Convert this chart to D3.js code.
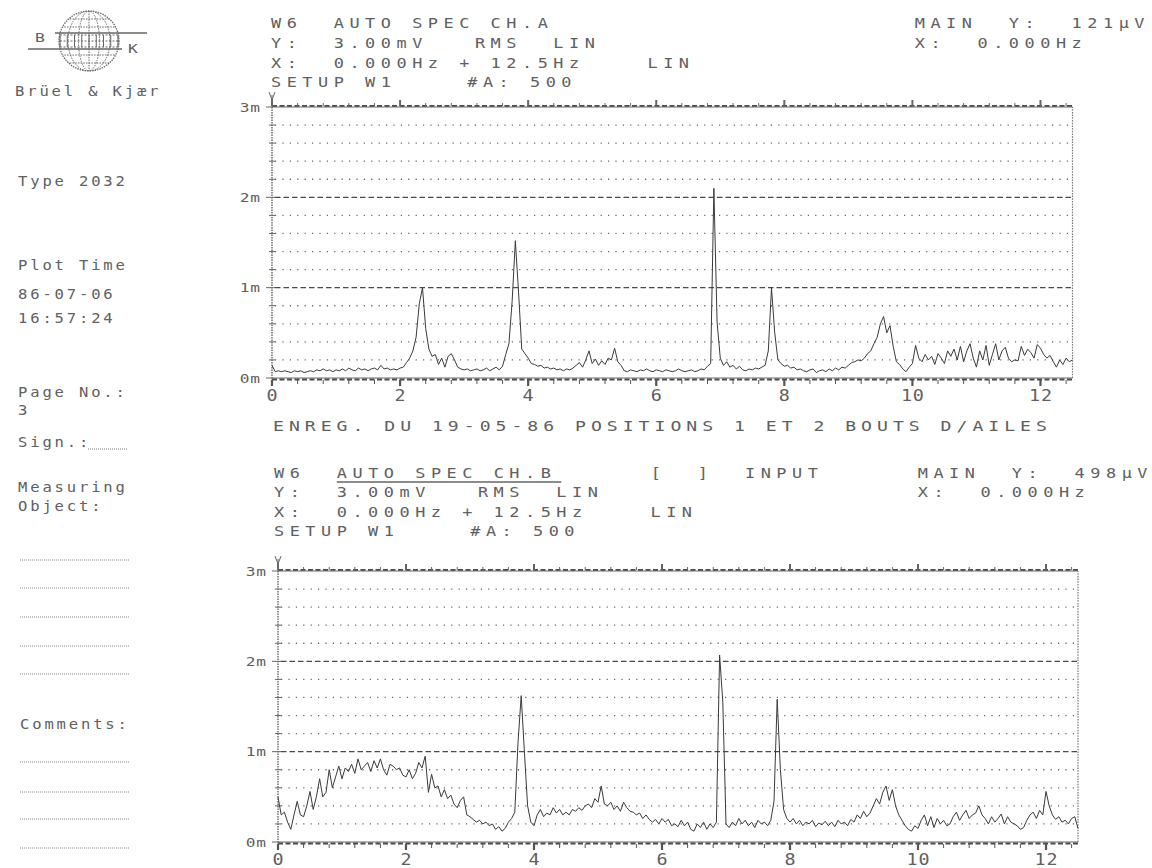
<!DOCTYPE html>
<html><head><meta charset="utf-8">
<script src="https://cdn.jsdelivr.net/npm/d3@7"></script>
<style>
body{margin:0;background:#fff}
svg{display:block}
text{font-family:"DejaVu Sans Mono","Liberation Mono",monospace;fill:#606060;white-space:pre}
</style></head>
<body><svg id="c" width="1152" height="868"></svg>
<script>
// ---------- data ----------
const FREQ_STEP = 0.05;      // Hz between spectrum values
const FREQ_MAX = 12.5;       // Hz span
const Y_MAX = 3;             // mV full scale

// CH.A auto spectrum (mV RMS), 0 .. 12.5 Hz every 0.05 Hz
const chA = [
 0.14,0.07,0.08,0.07,0.08,0.07,0.06,0.08,0.07,0.08, 0.06,0.07,0.08,0.07,0.09,0.08,0.10,0.08,0.09,0.07,
 0.09,0.08,0.10,0.08,0.11,0.09,0.08,0.11,0.09,0.10, 0.08,0.10,0.11,0.09,0.14,0.10,0.11,0.09,0.10,0.09,
 0.11,0.12,0.17,0.22,0.30,0.45,0.82,1.00,0.55,0.32, 0.24,0.26,0.15,0.22,0.12,0.24,0.27,0.20,0.12,0.10,
 0.09,0.10,0.08,0.09,0.10,0.08,0.09,0.11,0.08,0.10, 0.12,0.09,0.13,0.26,0.38,0.85,1.52,0.95,0.32,0.27,
 0.22,0.16,0.15,0.13,0.14,0.11,0.12,0.10,0.11,0.09, 0.10,0.08,0.10,0.09,0.11,0.14,0.17,0.12,0.20,0.30,
 0.16,0.21,0.14,0.19,0.15,0.22,0.20,0.33,0.18,0.14, 0.08,0.07,0.09,0.08,0.07,0.09,0.08,0.10,0.08,0.07,
 0.09,0.08,0.07,0.09,0.08,0.07,0.08,0.10,0.08,0.07, 0.08,0.09,0.07,0.08,0.10,0.09,0.13,0.16,2.10,0.62,
 0.22,0.14,0.18,0.12,0.14,0.10,0.13,0.09,0.08,0.10, 0.09,0.11,0.10,0.12,0.14,0.30,1.00,0.50,0.20,0.16,
 0.13,0.14,0.11,0.12,0.09,0.10,0.08,0.07,0.09,0.10, 0.06,0.08,0.09,0.07,0.10,0.08,0.11,0.09,0.12,0.11,
 0.14,0.17,0.18,0.20,0.19,0.22,0.27,0.30,0.38,0.45, 0.60,0.68,0.50,0.58,0.35,0.18,0.15,0.10,0.07,0.12,
 0.16,0.36,0.22,0.18,0.26,0.20,0.24,0.15,0.27,0.22, 0.16,0.30,0.24,0.32,0.20,0.35,0.18,0.30,0.38,0.22,
 0.12,0.30,0.20,0.36,0.14,0.26,0.38,0.20,0.30,0.34, 0.22,0.18,0.20,0.19,0.35,0.25,0.32,0.28,0.22,0.37,
 0.33,0.26,0.22,0.25,0.18,0.12,0.20,0.15,0.22,0.18, 0.20
];

// CH.B auto spectrum (mV RMS), 0 .. 12.5 Hz every 0.05 Hz
const chB = [
 0.50,0.30,0.33,0.22,0.14,0.30,0.45,0.30,0.28,0.40, 0.56,0.36,0.50,0.70,0.50,0.55,0.80,0.60,0.72,0.84,
 0.70,0.82,0.78,0.86,0.76,0.92,0.80,0.84,0.88,0.78, 0.90,0.82,0.92,0.80,0.74,0.86,0.84,0.80,0.82,0.74,
 0.72,0.80,0.70,0.76,0.88,0.82,0.95,0.55,0.75,0.60, 0.62,0.50,0.58,0.48,0.52,0.42,0.38,0.46,0.50,0.30,
 0.28,0.25,0.22,0.24,0.20,0.22,0.18,0.20,0.14,0.17, 0.12,0.15,0.22,0.26,0.33,1.10,1.62,1.00,0.40,0.22,
 0.18,0.30,0.36,0.28,0.32,0.30,0.38,0.32,0.36,0.30, 0.33,0.30,0.36,0.34,0.38,0.35,0.40,0.42,0.38,0.48,
 0.44,0.62,0.42,0.40,0.44,0.36,0.40,0.34,0.44,0.38, 0.34,0.33,0.30,0.32,0.26,0.30,0.25,0.22,0.25,0.20,
 0.26,0.22,0.25,0.18,0.20,0.17,0.24,0.18,0.22,0.14, 0.12,0.20,0.16,0.22,0.14,0.20,0.16,0.22,2.07,1.55,
 0.20,0.16,0.22,0.18,0.26,0.20,0.24,0.18,0.22,0.16, 0.24,0.20,0.22,0.18,0.24,0.45,1.58,0.80,0.36,0.26,
 0.22,0.26,0.20,0.24,0.18,0.22,0.20,0.24,0.17,0.21, 0.19,0.23,0.18,0.22,0.17,0.24,0.20,0.22,0.18,0.25,
 0.22,0.30,0.26,0.34,0.28,0.32,0.40,0.48,0.42,0.55, 0.62,0.46,0.58,0.40,0.30,0.24,0.18,0.14,0.12,0.18,
 0.15,0.24,0.30,0.18,0.28,0.16,0.26,0.20,0.24,0.18, 0.20,0.28,0.33,0.24,0.30,0.35,0.26,0.30,0.32,0.40,
 0.30,0.26,0.20,0.28,0.22,0.26,0.31,0.20,0.28,0.22, 0.20,0.18,0.14,0.16,0.24,0.30,0.33,0.26,0.35,0.30,
 0.56,0.40,0.30,0.25,0.28,0.22,0.24,0.20,0.26,0.28, 0.15
];

const yTickValues = [0, 1, 2, 3];
const yTickLabels = ["0m", "1m", "2m", "3m"];
const xTickValues = [0, 2, 4, 6, 8, 10, 12];
const xMinorStep = 0.4;
const cursorFreq = 0;

const headerA = ["W6  AUTO SPEC CH.A", "MAIN  Y:  121µV", "Y:  3.00mV   RMS  LIN", "X:  0.000Hz",
                 "X:  0.000Hz + 12.5Hz    LIN", "SETUP W1", "#A: 500"];
const headerB = ["W6", "AUTO SPEC CH.B", "[  ]", "INPUT", "MAIN  Y:  498µV", "Y:  3.00mV   RMS  LIN", "X:  0.000Hz",
                 "X:  0.000Hz + 12.5Hz    LIN", "SETUP W1", "#A: 500"];
const caption = "ENREG. DU 19-05-86 POSITIONS 1 ET 2 BOUTS D/AILES";
const sideTexts = ["Brüel & Kjær", "Type 2032", "Plot Time", "86-07-06", "16:57:24",
                   "Page No.:", "3", "Sign.:", "Measuring", "Object:", "Comments:"];

// ---------- drawing ----------
const svg = d3.select("#c");
const INK = "#555";

// monospaced text with a given character pitch; glyphs widened by sx
function mono(x, y, str, size, pitch, anchor, sx) {
  sx = sx || 1.25;
  const adv = 0.6021 * size;
  const ls = pitch / sx - adv;
  let dx = 0;
  if (anchor === "end") dx = ls;            // trailing letter-spacing
  if (anchor === "middle") dx = ls / 2;
  return svg.append("text")
    .attr("transform", `translate(${x},${y}) scale(${sx},1)`)
    .attr("x", dx)
    .attr("font-size", size)
    .attr("letter-spacing", ls.toFixed(2))
    .attr("text-anchor", anchor || "start")
    .attr("xml:space", "preserve")
    .text(str);
}

function dotLine(x1, x2, y, dash, w, col) {
  svg.append("line").attr("x1", x1).attr("x2", x2).attr("y1", y).attr("y2", y)
    .attr("stroke", col || INK).attr("stroke-width", w || 1).attr("stroke-dasharray", dash);
}

function drawPanel(p, data) {
  const x = d3.scaleLinear().domain([0, FREQ_MAX]).range([p.left, p.left + p.width]);
  const y = d3.scaleLinear().domain([0, Y_MAX]).range([p.top + p.height, p.top]);
  const g = svg.append("g");

  // horizontal grid every 0.2 mV
  d3.range(1, 15).map(i => i * 0.2).forEach(v => {
    const major = Math.abs(v - Math.round(v)) < 1e-6;
    g.append("line").attr("x1", x(0) + 3).attr("x2", x(FREQ_MAX)).attr("y1", y(v)).attr("y2", y(v))
      .attr("stroke", major ? "#4a4a4a" : "#666").attr("stroke-width", 1.3)
      .attr("stroke-dasharray", major ? "5.5,3" : "1.2,6.2");
    g.append("line").attr("x1", x(0) - (major ? 6 : 3)).attr("x2", x(0) + 3).attr("y1", y(v)).attr("y2", y(v))
      .attr("stroke", "#666").attr("stroke-width", 1);
  });

  // bottom and top frame lines (heavy dashed)
  [0, Y_MAX].forEach(v => {
    const off = v === 0 ? 1.5 : -1.2;
    g.append("line").attr("x1", x(0) - 6).attr("x2", x(FREQ_MAX)).attr("y1", y(v)).attr("y2", y(v))
      .attr("stroke", "#666").attr("stroke-width", 1);
    g.append("line").attr("x1", x(0)).attr("x2", x(FREQ_MAX)).attr("y1", y(v) + off).attr("y2", y(v) + off)
      .attr("stroke", "#4a4a4a").attr("stroke-width", 1.8).attr("stroke-dasharray", "5,2.5");
  });

  // left axis and right border
  g.append("line").attr("x1", x(0)).attr("x2", x(0)).attr("y1", y(0) + 3).attr("y2", y(Y_MAX))
    .attr("stroke", "#666").attr("stroke-width", 1.4).attr("stroke-dasharray", "1.5,1");
  g.append("line").attr("x1", x(FREQ_MAX)).attr("x2", x(FREQ_MAX)).attr("y1", y(0)).attr("y2", y(Y_MAX))
    .attr("stroke", "#777").attr("stroke-width", 1.2).attr("stroke-dasharray", "1.5,1.2");

  // frequency ticks every 0.4 Hz, below the 0 line and above the full-scale line
  d3.range(0, FREQ_MAX, xMinorStep).forEach((f, i) => {
    const major = i % 5 === 0;
    g.append("line").attr("x1", x(f)).attr("x2", x(f))
      .attr("y1", y(0) + 2).attr("y2", y(0) + (major ? 8 : 6))
      .attr("stroke", "#555").attr("stroke-width", major ? 2.2 : 1);
    g.append("line").attr("x1", x(f)).attr("x2", x(f))
      .attr("y1", y(Y_MAX) - 1).attr("y2", y(Y_MAX) - (major ? 7 : 4))
      .attr("stroke", "#666").attr("stroke-width", major ? 2 : 1);
  });

  // cursor marker
  const cx = x(cursorFreq), cy = y(Y_MAX);
  g.append("path").attr("d", `M${cx - 3},${cy - 15}L${cx},${cy - 7}L${cx + 3},${cy - 15}M${cx},${cy - 12}V${cy}`)
    .attr("fill", "none").attr("stroke", "#666").attr("stroke-width", 1);

  // tick labels
  yTickValues.forEach((v, i) => mono(x(0) - 12, y(v) + 4.5, yTickLabels[i], 12, 10.5, "end", 1.35));
  xTickValues.forEach(v => mono(x(v), y(0) + 22.5, String(v), 16, 12, "middle", 1.15));

  // spectrum trace
  const line = d3.line().x(d => x(d[0])).y(d => y(d[1]));
  g.append("path").datum(data.map((v, i) => [i * FREQ_STEP, v]))
    .attr("d", line).attr("fill", "none").attr("stroke", "#3a3a3a").attr("stroke-width", 1)
    .attr("stroke-linejoin", "round");
}

drawPanel({left: 272, top: 107, width: 800.5, height: 271}, chA);
drawPanel({left: 278, top: 571, width: 800, height: 271}, chB);

// ---------- header texts ----------
const HS = 13.5, HP = 15.7;
const colX = (x0, c) => x0 + c * HP;
let X0 = 271;
mono(colX(X0, 0), 27.5, headerA[0], HS, HP);
mono(colX(X0, 41), 27.5, headerA[1], HS, HP);
mono(colX(X0, 0), 47.5, headerA[2], HS, HP);
mono(colX(X0, 41), 47.5, headerA[3], HS, HP);
mono(colX(X0, 0), 67.5, headerA[4], HS, HP);
mono(colX(X0, 0), 86.5, headerA[5], HS, HP);
mono(colX(X0, 12.5), 86.5, headerA[6], HS, HP);

X0 = 274;
mono(colX(X0, 0), 477.5, headerB[0], HS, HP);
mono(colX(X0, 4), 477.5, headerB[1], HS, HP);
svg.append("line").attr("x1", colX(X0, 4)).attr("x2", colX(X0, 18.3)).attr("y1", 482).attr("y2", 482)
  .attr("stroke", "#666").attr("stroke-width", 1.6);
mono(colX(X0, 24), 477.5, headerB[2], HS, HP);
mono(colX(X0, 30), 477.5, headerB[3], HS, HP);
mono(colX(X0, 41), 477.5, headerB[4], HS, HP);
mono(colX(X0, 0), 497, headerB[5], HS, HP);
mono(colX(X0, 41), 497, headerB[6], HS, HP);
mono(colX(X0, 0), 516.5, headerB[7], HS, HP);
mono(colX(X0, 0), 535.5, headerB[8], HS, HP);
mono(colX(X0, 12.5), 535.5, headerB[9], HS, HP);

// caption between the plots
mono(273, 430.5, caption, 14.5, 15.9);

// ---------- left margin ----------
const LS = 13.5, LP = 12.2, LX = 1.15;
// logo
const lg = svg.append("g").attr("stroke", "#666").attr("fill", "none").attr("stroke-width", 1);
const gcx = 89, gcy = 41, gr = 30;
lg.append("circle").attr("cx", gcx).attr("cy", gcy).attr("r", gr).attr("stroke-dasharray", "1.5,1").attr("stroke-width", 1.3);
lg.append("clipPath").attr("id", "globe").append("circle").attr("cx", gcx).attr("cy", gcy).attr("r", gr);
const inner = lg.append("g").attr("clip-path", "url(#globe)").attr("stroke-dasharray", "1.5,1.2");
[0.35, 0.7].forEach(k => inner.append("ellipse").attr("cx", gcx).attr("cy", gcy).attr("rx", gr * k).attr("ry", gr));
inner.append("line").attr("x1", gcx).attr("x2", gcx).attr("y1", gcy - gr).attr("y2", gcy + gr);
[-22, -14, 14, 22].forEach(d => inner.append("line").attr("x1", gcx - gr).attr("x2", gcx + gr).attr("y1", gcy + d).attr("y2", gcy + d));
lg.append("line").attr("x1", 55).attr("x2", 147).attr("y1", 33).attr("y2", 33).attr("stroke-width", 1.6);
lg.append("line").attr("x1", 28).attr("x2", 122).attr("y1", 49).attr("y2", 49).attr("stroke-width", 1.6);
lg.append("rect").attr("x", 60).attr("y", 35).attr("width", 58).attr("height", 12).attr("stroke-dasharray", "2,1.5");
lg.append("line").attr("x1", 60).attr("x2", 118).attr("y1", 41).attr("y2", 41).attr("stroke-dasharray", "2,1.5");
d3.range(0, 9).forEach(i => lg.append("line").attr("x1", 60 + i * 7.25).attr("x2", 60 + i * 7.25).attr("y1", 35).attr("y2", 47));
mono(35, 42, "B", 13, 10);
mono(128, 53, "K", 13, 10);

mono(15, 96, sideTexts[0], LS, LP, "start", LX);
mono(18, 186, sideTexts[1], LS, LP, "start", LX);
mono(18, 270, sideTexts[2], LS, LP, "start", LX);
mono(18, 299, sideTexts[3], LS, LP, "start", LX);
mono(18, 323, sideTexts[4], LS, LP, "start", LX);
mono(18, 397, sideTexts[5], LS, LP, "start", LX);
mono(18, 415, sideTexts[6], LS, LP, "start", LX);
mono(18, 447, sideTexts[7], LS, LP, "start", LX);
dotLine(88, 127, 449, "1,1", 1, "#777");
mono(18, 492, sideTexts[8], LS, LP, "start", LX);
mono(18, 511, sideTexts[9], LS, LP, "start", LX);
[560, 588, 617, 646, 674].forEach(yy => dotLine(20, 130, yy, "1,1", 1, "#888"));
mono(20, 729, sideTexts[10], LS, LP, "start", LX);
[762, 792, 819, 848].forEach(yy => dotLine(20, 130, yy, "1,1", 1, "#888"));
</script>
</body></html>
